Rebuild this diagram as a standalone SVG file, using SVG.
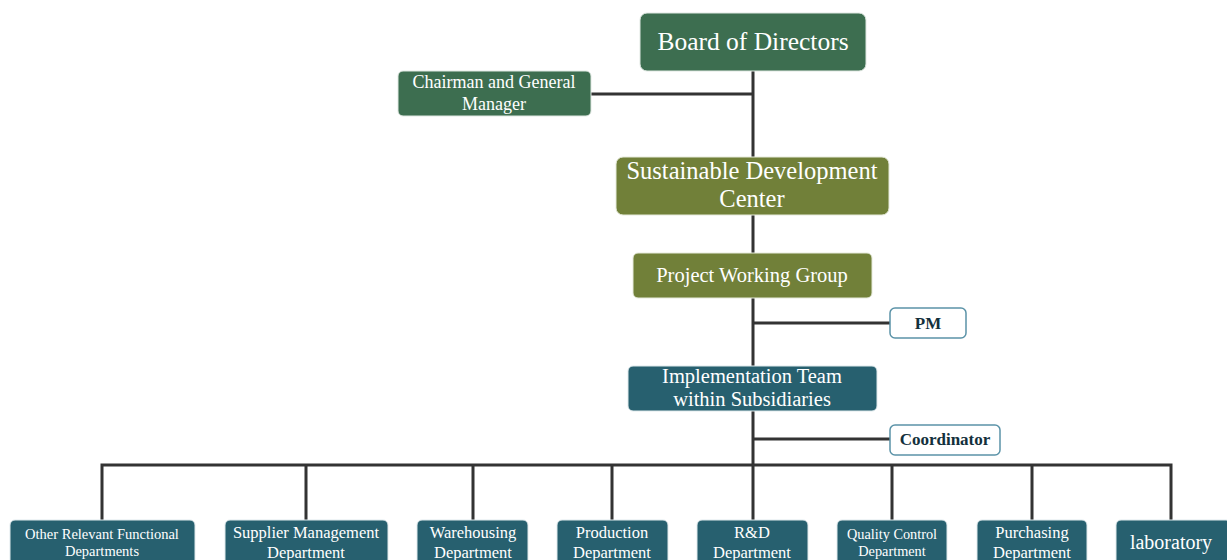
<svg xmlns="http://www.w3.org/2000/svg" width="1227" height="560" viewBox="0 0 1227 560">
<style>
text{font-family:"Liberation Serif","Times New Roman",serif;text-anchor:middle;fill:#ffffff}
.dg{fill:#3d6e50;stroke:#e0e8e2;stroke-width:1}
.ol{fill:#718039;stroke:#e6eadb;stroke-width:1}
.tl{fill:#27606f;stroke:#dfe9ec;stroke-width:1}
.wb{fill:#ffffff;stroke:#5b93a8;stroke-width:1.5}
.wt{fill:#13303c;font-weight:bold;font-size:17px}
.ln{stroke:#333333;stroke-width:3;fill:none}
</style>
<g id="connectors">
<path class="ln" d="M753 71V520"/>
<path class="ln" d="M591 94H753"/>
<path class="ln" d="M753 323H890"/>
<path class="ln" d="M753 439H890"/>
<path class="ln" d="M102 520V465H1171V520"/>
<path class="ln" d="M306 465V520M473 465V520M612 465V520M892 465V520M1032 465V520"/>
</g>
<g id="board"><rect class="dg" x="640" y="13" width="226" height="58" rx="7"/><text x="753" y="50" font-size="25.5">Board of Directors</text></g>
<g id="chairman"><rect class="dg" x="398" y="71" width="193" height="45" rx="5"/><text x="494" y="88" font-size="18">Chairman and General</text><text x="494" y="110" font-size="18">Manager</text></g>
<g id="sdc"><rect class="ol" x="616" y="157" width="273" height="58" rx="7"/><text x="752" y="179" font-size="24.5">Sustainable Development</text><text x="752" y="207" font-size="24.5">Center</text></g>
<g id="pwg"><rect class="ol" x="633" y="253" width="239" height="45" rx="5"/><text x="752" y="282" font-size="20.5">Project Working Group</text></g>
<g id="pm"><rect class="wb" x="890" y="308" width="76" height="30" rx="5"/><text class="wt" x="928" y="329">PM</text></g>
<g id="impl"><rect class="tl" x="628" y="366" width="249" height="45" rx="5"/><text x="752" y="383" font-size="20.5">Implementation Team</text><text x="752" y="406" font-size="20.5">within Subsidiaries</text></g>
<g id="coord"><rect class="wb" x="890" y="425" width="110" height="30" rx="5"/><text class="wt" x="945" y="445">Coordinator</text></g>
<g id="other"><rect class="tl" x="10" y="520" width="185" height="50" rx="5"/><text x="102" y="539" font-size="14.5">Other Relevant Functional</text><text x="102" y="556" font-size="14.5">Departments</text></g>
<g id="supplier"><rect class="tl" x="225" y="520" width="163" height="50" rx="5"/><text x="306" y="538" font-size="16.5">Supplier Management</text><text x="306" y="558" font-size="16.5">Department</text></g>
<g id="warehousing"><rect class="tl" x="417" y="520" width="111" height="50" rx="5"/><text x="473" y="538" font-size="16.5">Warehousing</text><text x="473" y="558" font-size="16.5">Department</text></g>
<g id="production"><rect class="tl" x="557" y="520" width="111" height="50" rx="5"/><text x="612" y="538" font-size="16.5">Production</text><text x="612" y="558" font-size="16.5">Department</text></g>
<g id="rd"><rect class="tl" x="697" y="520" width="111" height="50" rx="5"/><text x="752" y="538" font-size="16.5">R&amp;D</text><text x="752" y="558" font-size="16.5">Department</text></g>
<g id="quality"><rect class="tl" x="837" y="520" width="110" height="50" rx="5"/><text x="892" y="539" font-size="14.3">Quality Control</text><text x="892" y="556" font-size="14.3">Department</text></g>
<g id="purchasing"><rect class="tl" x="977" y="520" width="110" height="50" rx="5"/><text x="1032" y="538" font-size="16.5">Purchasing</text><text x="1032" y="558" font-size="16.5">Department</text></g>
<g id="laboratory"><rect class="tl" x="1116" y="520" width="115" height="50" rx="5"/><text x="1171" y="549" font-size="20">laboratory</text></g>
</svg>
